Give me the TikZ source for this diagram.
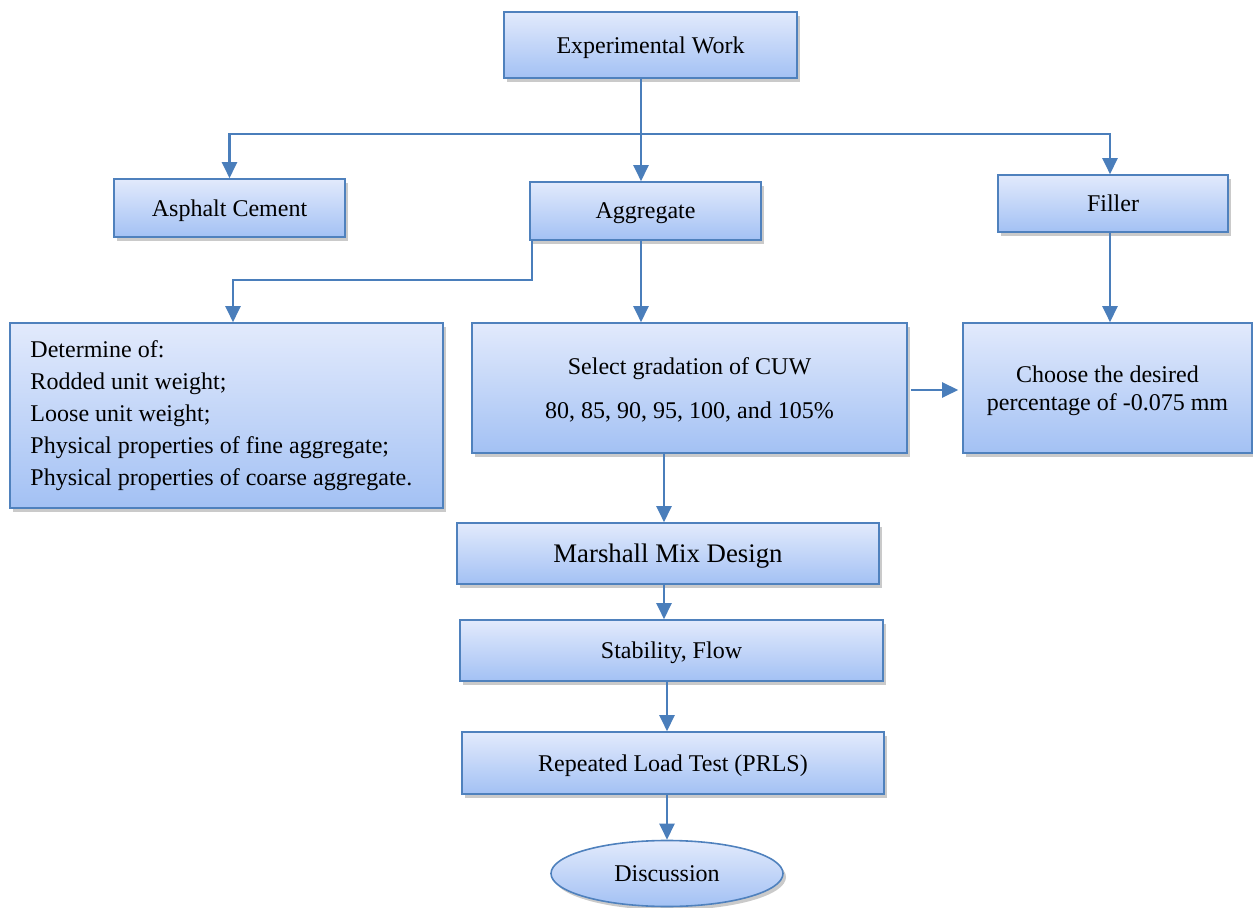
\documentclass[tikz,border=0pt]{standalone}
\usepackage{fontspec}
\setmainfont{Liberation Serif}
\usetikzlibrary{shadows,arrows.meta,shapes.geometric,calc}
\definecolor{bordc}{RGB}{79,129,189}
\definecolor{arrc}{RGB}{74,126,187}
\definecolor{topc}{RGB}{226,234,252}
\definecolor{botc}{RGB}{163,193,244}
\tikzset{
  basebox/.style={draw=bordc, line width=0.8pt, top color=topc, bottom color=botc,
    drop shadow={shadow xshift=1.5pt, shadow yshift=-1.8pt, opacity=0.35, fill=black!60},
    inner sep=0pt, font=\fontsize{12}{14}\selectfont, align=center},
  box/.style={basebox, text depth=0pt},
  arr/.style={draw=arrc, line width=1.2pt, -{Triangle[width=7.5pt,length=8pt]}}
}
\begin{document}
\begin{tikzpicture}[x=0.5pt,y=-0.5pt]
\useasboundingbox (0,0) rectangle (1253,908);
\node[box, minimum width=146.5pt, minimum height=33pt] (exp) at (650.5,45) {Experimental Work};
\node[box, minimum width=115.5pt, minimum height=29pt] (asph) at (229.5,208) {Asphalt Cement};
\node[box, minimum width=115.5pt, minimum height=29pt] (agg) at (645.5,211) {Aggregate};
\node[box, minimum width=115pt, minimum height=28.5pt] (fil) at (1113,203.5) {Filler};
\node[basebox, minimum width=216.5pt, minimum height=92.5pt, align=flush left, text width=196pt, font=\fontsize{12}{16}\selectfont] (det) at (226.5,415.5) {Determine of:\\Rodded unit weight;\\Loose unit weight;\\Physical properties of fine aggregate;\\Physical properties of coarse aggregate.};
\node[box, minimum width=217.5pt, minimum height=65pt, font=\fontsize{12}{22}\selectfont] (sel) at (689.5,388) {Select gradation of CUW\\80, 85, 90, 95, 100, and 105\%};
\node[box, minimum width=144.5pt, minimum height=65pt, font=\fontsize{12}{14}\selectfont] (cho) at (1107.5,388) {Choose the desired\\percentage of -0.075 mm};
\node[box, minimum width=211pt, minimum height=30.5pt, font=\fontsize{13.4}{15}\selectfont] (mar) at (668,553.5) {Marshall Mix Design};
\node[box, minimum width=211.5pt, minimum height=30.5pt] (stab) at (671.5,650.5) {Stability, Flow};
\node[box, minimum width=211pt, minimum height=31pt] (rep) at (673,763) {Repeated Load Test (PRLS)};
\node[box, ellipse, minimum width=116pt, minimum height=33pt] (disc) at (667,873.5) {Discussion};
% connectors
\coordinate (bus) at (641,134);
\draw[arr] (exp.south -| bus) -- (agg.north -| bus);
\draw[arr] (bus) -| (asph.north);
\draw[arr] (bus) -| ($(fil.north)+(-3,0)$);
\coordinate (bend) at (532,280);
\draw[arr] (agg.south -| bend) -- (bend) -| (det.north -| 233,0);
\draw[arr] (agg.south -| bus) -- (sel.north -| bus);
\draw[arr] (fil.south -| 1110,0) -- (cho.north -| 1110,0);
\draw[arr] ($(sel.east)+(3,2)$) -- ($(cho.west)+(-4,2)$);
\draw[arr] (sel.south -| 664,0) -- (mar.north -| 664,0);
\draw[arr] (mar.south -| 664,0) -- (stab.north -| 664,0);
\draw[arr] (stab.south -| 667,0) -- (rep.north -| 667,0);
\draw[arr] (rep.south -| 667,0) -- (disc.north -| 667,0);
\end{tikzpicture}
\end{document}
